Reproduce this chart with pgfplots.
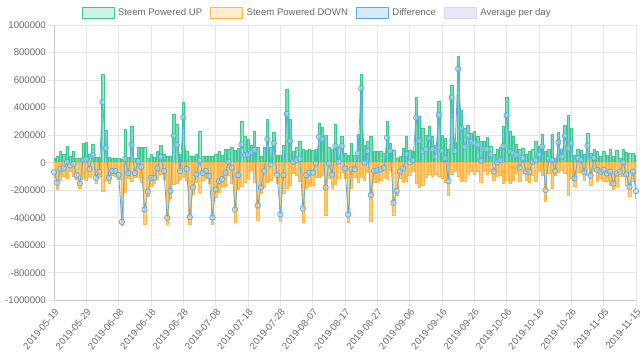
\documentclass[border=0pt]{standalone}
\usepackage{fontspec}
\setmainfont{Liberation Sans}
\usepackage{pgfplots}
\usepackage{pgfplotstable}
\pgfplotsset{compat=1.18}
\definecolor{upfill}{RGB}{120,222,184}
\definecolor{upline}{RGB}{60,200,145}
\definecolor{uplegfill}{RGB}{205,243,228}
\definecolor{dnfill}{RGB}{255,206,120}
\definecolor{dnline}{RGB}{255,182,70}
\definecolor{dnlegfill}{RGB}{255,236,204}
\definecolor{dfline}{RGB}{90,172,230}
\definecolor{dflegfill}{RGB}{214,234,250}
\definecolor{avline}{RGB}{212,212,245}
\definecolor{avlegfill}{RGB}{232,232,250}
\definecolor{txt}{RGB}{102,102,102}
\definecolor{gridc}{RGB}{229,229,229}

\pgfplotstableread{
d up down diff
0 30000 -100000 -70000
1 50000 -195000 -145000
2 80000 -125000 -45000
3 60000 -100000 -40000
4 120000 -115000 5000
5 45000 -65000 -20000
6 85000 -95000 -10000
7 30000 -120000 -90000
8 35000 -185000 -150000
9 140000 -120000 20000
10 150000 -125000 25000
11 60000 -105000 -45000
12 135000 -80000 55000
13 40000 -150000 -110000
14 40000 -105000 -65000
15 645000 -205000 440000
16 235000 -130000 105000
17 40000 -150000 -110000
18 30000 -90000 -60000
19 35000 -95000 -60000
20 30000 -120000 -90000
21 25000 -455000 -430000
22 240000 -215000 25000
23 40000 -115000 -75000
24 265000 -135000 130000
25 30000 -105000 -75000
26 115000 -105000 10000
27 115000 -145000 -30000
28 110000 -450000 -340000
29 35000 -245000 -210000
30 60000 -170000 -110000
31 40000 -150000 -110000
32 80000 -120000 -40000
33 125000 -85000 40000
34 60000 -120000 -60000
35 45000 -445000 -400000
36 50000 -255000 -205000
37 350000 -155000 195000
38 280000 -150000 130000
39 60000 -120000 -60000
40 436000 -106000 330000
41 80000 -125000 -45000
42 50000 -445000 -395000
43 50000 -230000 -180000
44 60000 -145000 -85000
45 230000 -215000 15000
46 50000 -125000 -75000
47 50000 -110000 -60000
48 50000 -147000 -97000
49 50000 -448000 -398000
50 60000 -254000 -194000
51 80000 -213000 -133000
52 55000 -174000 -119000
53 100000 -173000 -73000
54 100000 -93000 7000
55 110000 -146000 -36000
56 92000 -432000 -340000
57 105000 -195000 -90000
58 303000 -170000 133000
59 196000 -140000 56000
60 172000 -111000 61000
61 130000 -55000 75000
62 230000 -138000 92000
63 110000 -420000 -310000
64 44000 -224000 -180000
65 116000 -176000 -60000
66 315000 -143000 172000
67 116000 -128000 -12000
68 220000 -79000 141000
69 56000 -146000 -90000
70 51000 -427000 -376000
71 128000 -218000 -90000
72 536000 -182000 354000
73 318000 -160000 158000
74 85000 -78000 7000
75 110000 -91000 19000
76 158000 -131000 27000
77 100000 -432000 -332000
78 92000 -182000 -90000
79 100000 -173000 -73000
80 92000 -165000 -73000
81 100000 -105000 -5000
82 290000 -103000 187000
83 260000 -90000 170000
84 200000 -380000 -180000
85 110000 -115000 -5000
86 100000 -187000 -87000
87 280000 -159000 121000
88 116000 -109000 7000
89 190000 -69000 121000
90 68000 -109000 -41000
91 56000 -432000 -376000
92 140000 -188000 -48000
93 56000 -104000 -48000
94 206000 -138000 68000
95 645000 -104000 541000
96 128000 -128000 0
97 153000 -68000 85000
98 190000 -425000 -235000
99 85000 -145000 -60000
100 85000 -141000 -56000
101 80000 -128000 -48000
102 68000 -104000 -36000
103 303000 -121000 182000
104 140000 -55000 85000
105 90000 -381000 -291000
106 32000 -236000 -204000
107 44000 -109000 -65000
108 104000 -145000 -41000
109 194000 -133000 61000
110 92000 -90000 2000
111 80000 -61000 19000
112 473000 -146000 327000
113 335000 -177000 158000
114 250000 -165000 85000
115 200000 -103000 97000
116 262000 -85000 177000
117 196000 -99000 97000
118 128000 -84000 44000
119 444000 -97000 347000
120 200000 -115000 85000
121 177000 -145000 32000
122 100000 -233000 -133000
123 560000 -87000 473000
124 150000 -65000 85000
125 776000 -95000 681000
126 383000 -133000 250000
127 250000 -134000 116000
128 274000 -80000 194000
129 213000 -60000 153000
130 230000 -85000 145000
131 189000 -61000 128000
132 153000 -138000 15000
133 153000 -54000 99000
134 182000 -85000 97000
135 120000 -60000 60000
136 60000 -125000 -65000
137 100000 -98000 2000
138 110000 -91000 19000
139 267000 -146000 121000
140 473000 -129000 344000
141 230000 -150000 80000
142 196000 -128000 68000
143 133000 -77000 56000
144 97000 -133000 -36000
145 105000 -73000 32000
146 60000 -125000 -65000
147 80000 -145000 -65000
148 100000 -93000 7000
149 153000 -134000 19000
150 120000 -60000 60000
151 206000 -90000 116000
152 80000 -279000 -199000
153 100000 -73000 27000
154 206000 -187000 19000
155 32000 -92000 -60000
156 220000 -72000 148000
157 100000 -56000 44000
158 274000 -78000 196000
159 342000 -238000 104000
160 250000 -110000 140000
161 55000 -169000 -114000
162 100000 -68000 32000
163 90000 -71000 19000
164 60000 -130000 -70000
165 213000 -89000 124000
166 68000 -162000 -94000
167 100000 -64000 36000
168 80000 -133000 -53000
169 44000 -109000 -65000
170 80000 -133000 -53000
171 55000 -133000 -78000
172 100000 -165000 -65000
173 44000 -194000 -150000
174 92000 -170000 -78000
175 32000 -97000 -65000
176 100000 -98000 2000
177 75000 -160000 -85000
178 68000 -243000 -175000
179 68000 -133000 -65000
180 55000 -261000 -206000
}\steemdata

\begin{document}
\begin{tikzpicture}
\begin{axis}[
  scale only axis, width=582pt, height=275.4pt,
  xmin=0, xmax=180, ymin=-1000000, ymax=1000000,
  scaled y ticks=false, scaled x ticks=false,
  axis lines*=left,
  axis line style={draw=black!22, line width=0.8pt},
  xtick={0,10,...,180},
  xticklabels={2019-05-19,2019-05-29,2019-06-08,2019-06-18,2019-06-28,2019-07-08,2019-07-18,2019-07-28,2019-08-07,2019-08-17,2019-08-27,2019-09-06,2019-09-16,2019-09-26,2019-10-06,2019-10-16,2019-10-26,2019-11-05,2019-11-15},
  ytick={-1000000,-800000,-600000,-400000,-200000,0,200000,400000,600000,800000,1000000},
  yticklabels={-1000000,-800000,-600000,-400000,-200000,0,200000,400000,600000,800000,1000000},
  grid=major, grid style={draw=gridc, line width=0.8pt},
  tick align=outside, major tick length=6pt,
  tick style={draw=gridc, line width=0.8pt},
  ticklabel style={font=\fontsize{9.6}{11}\selectfont, text=txt},
  xticklabel style={rotate=50, anchor=north east, inner sep=1pt},
  yticklabel style={inner sep=2pt},
  legend image code/.code={\draw[#1] (0pt,-5.5pt) rectangle (32pt,5.5pt);},
  legend style={at={(axis description cs:0.452,1)}, anchor=center, yshift=12.5pt,
    draw=none, fill=none, font=\fontsize{9.6}{11}\selectfont, text=txt,
    legend columns=-1,
    /tikz/every odd column/.append style={column sep=1.5pt},
    /tikz/every even column/.append style={column sep=6pt}},
]
\addlegendimage{draw=upline, fill=uplegfill, line width=0.9pt}
\addlegendentry{Steem Powered UP}
\addlegendimage{draw=dnline, fill=dnlegfill, line width=0.9pt}
\addlegendentry{Steem Powered DOWN}
\addlegendimage{draw=dfline, fill=dflegfill, line width=0.9pt}
\addlegendentry{Difference}
\addlegendimage{draw=avline, fill=avlegfill, line width=0.9pt}
\addlegendentry{Average per day}

\addplot[ybar, bar width=2.4pt, bar shift=0pt, fill=upfill, draw=upline, line width=0.4pt, forget plot]
  table[x=d, y=up]{\steemdata};
\addplot[ybar, bar width=2.4pt, bar shift=0pt, fill=dnfill, draw=dnline, line width=0.4pt, forget plot]
  table[x=d, y=down]{\steemdata};
\addplot[draw=dfline, line width=0.8pt, mark=*, mark size=2.7pt,
  mark options={draw=dfline, fill=dflegfill, fill opacity=0.4, line width=0.8pt}, forget plot]
  table[x=d, y=diff]{\steemdata};
\end{axis}
\pgfresetboundingbox
\path[use as bounding box] ([xshift=-54pt,yshift=-60.6pt]current axis.south west) rectangle ([xshift=4pt,yshift=25pt]current axis.north east);
\end{tikzpicture}
\end{document}
